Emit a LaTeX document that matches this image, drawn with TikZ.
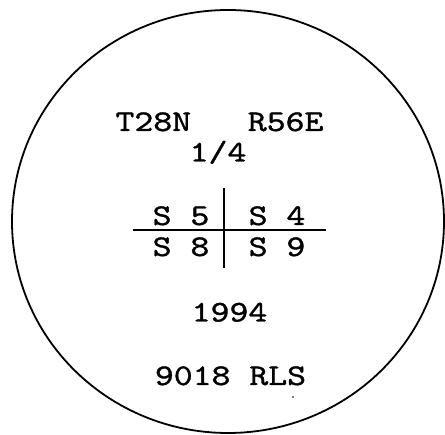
\documentclass[tikz,border=0pt]{standalone}
\usepackage{fontspec}
\setmonofont{lmmono10-regular.otf}[FakeStretch=1.2, FakeBold=1.2]
\usetikzlibrary{positioning}
\tikzset{
  lbl/.style ={font=\fontsize{30}{30}\selectfont\ttfamily, inner sep=0pt, anchor=base},
  rim/.style ={draw, line width=1.8pt},
  hbar/.style={line width=1.5pt},
  vbar/.style={line width=2.2pt},
}

\begin{document}
\begin{tikzpicture}[x=1pt,y=1pt]
  \useasboundingbox (0,0) rectangle (445,-435);
  \draw[rim] (228,-221.5) ellipse [x radius=216pt, y radius=211.5pt];

  % township and range
  \node[lbl] (twp)   at (219.5,-131) {T28N\ \ \ R56E};
  \node[lbl] (quart) at (218,-161.5) {1/4};

  % section cross
  \node[lbl] (s5) at (181,-225) {S 5};
  \node[lbl] (s4) at (277,-225) {S 4};
  \node[lbl] (s8) at (181,-256) {S 8};
  \node[lbl] (s9) at (277,-256) {S 9};
  \coordinate (vtop) at (224,-188);
  \coordinate (vbot) at (224,-268);
  \coordinate (hlft) at (133,-230);
  \coordinate (hrgt) at (326,-230);
  \draw[hbar] (hlft) -- (hrgt);
  \draw[vbar] (vtop) -- (vbot);

  % year and mark
  \node[lbl] (year) at (229.5,-321.5) {1994};
  \node[lbl] (mark) at (230.5,-385) {9018 RLS};
  \fill (293,-397) circle (0.8pt);
\end{tikzpicture}
\end{document}
